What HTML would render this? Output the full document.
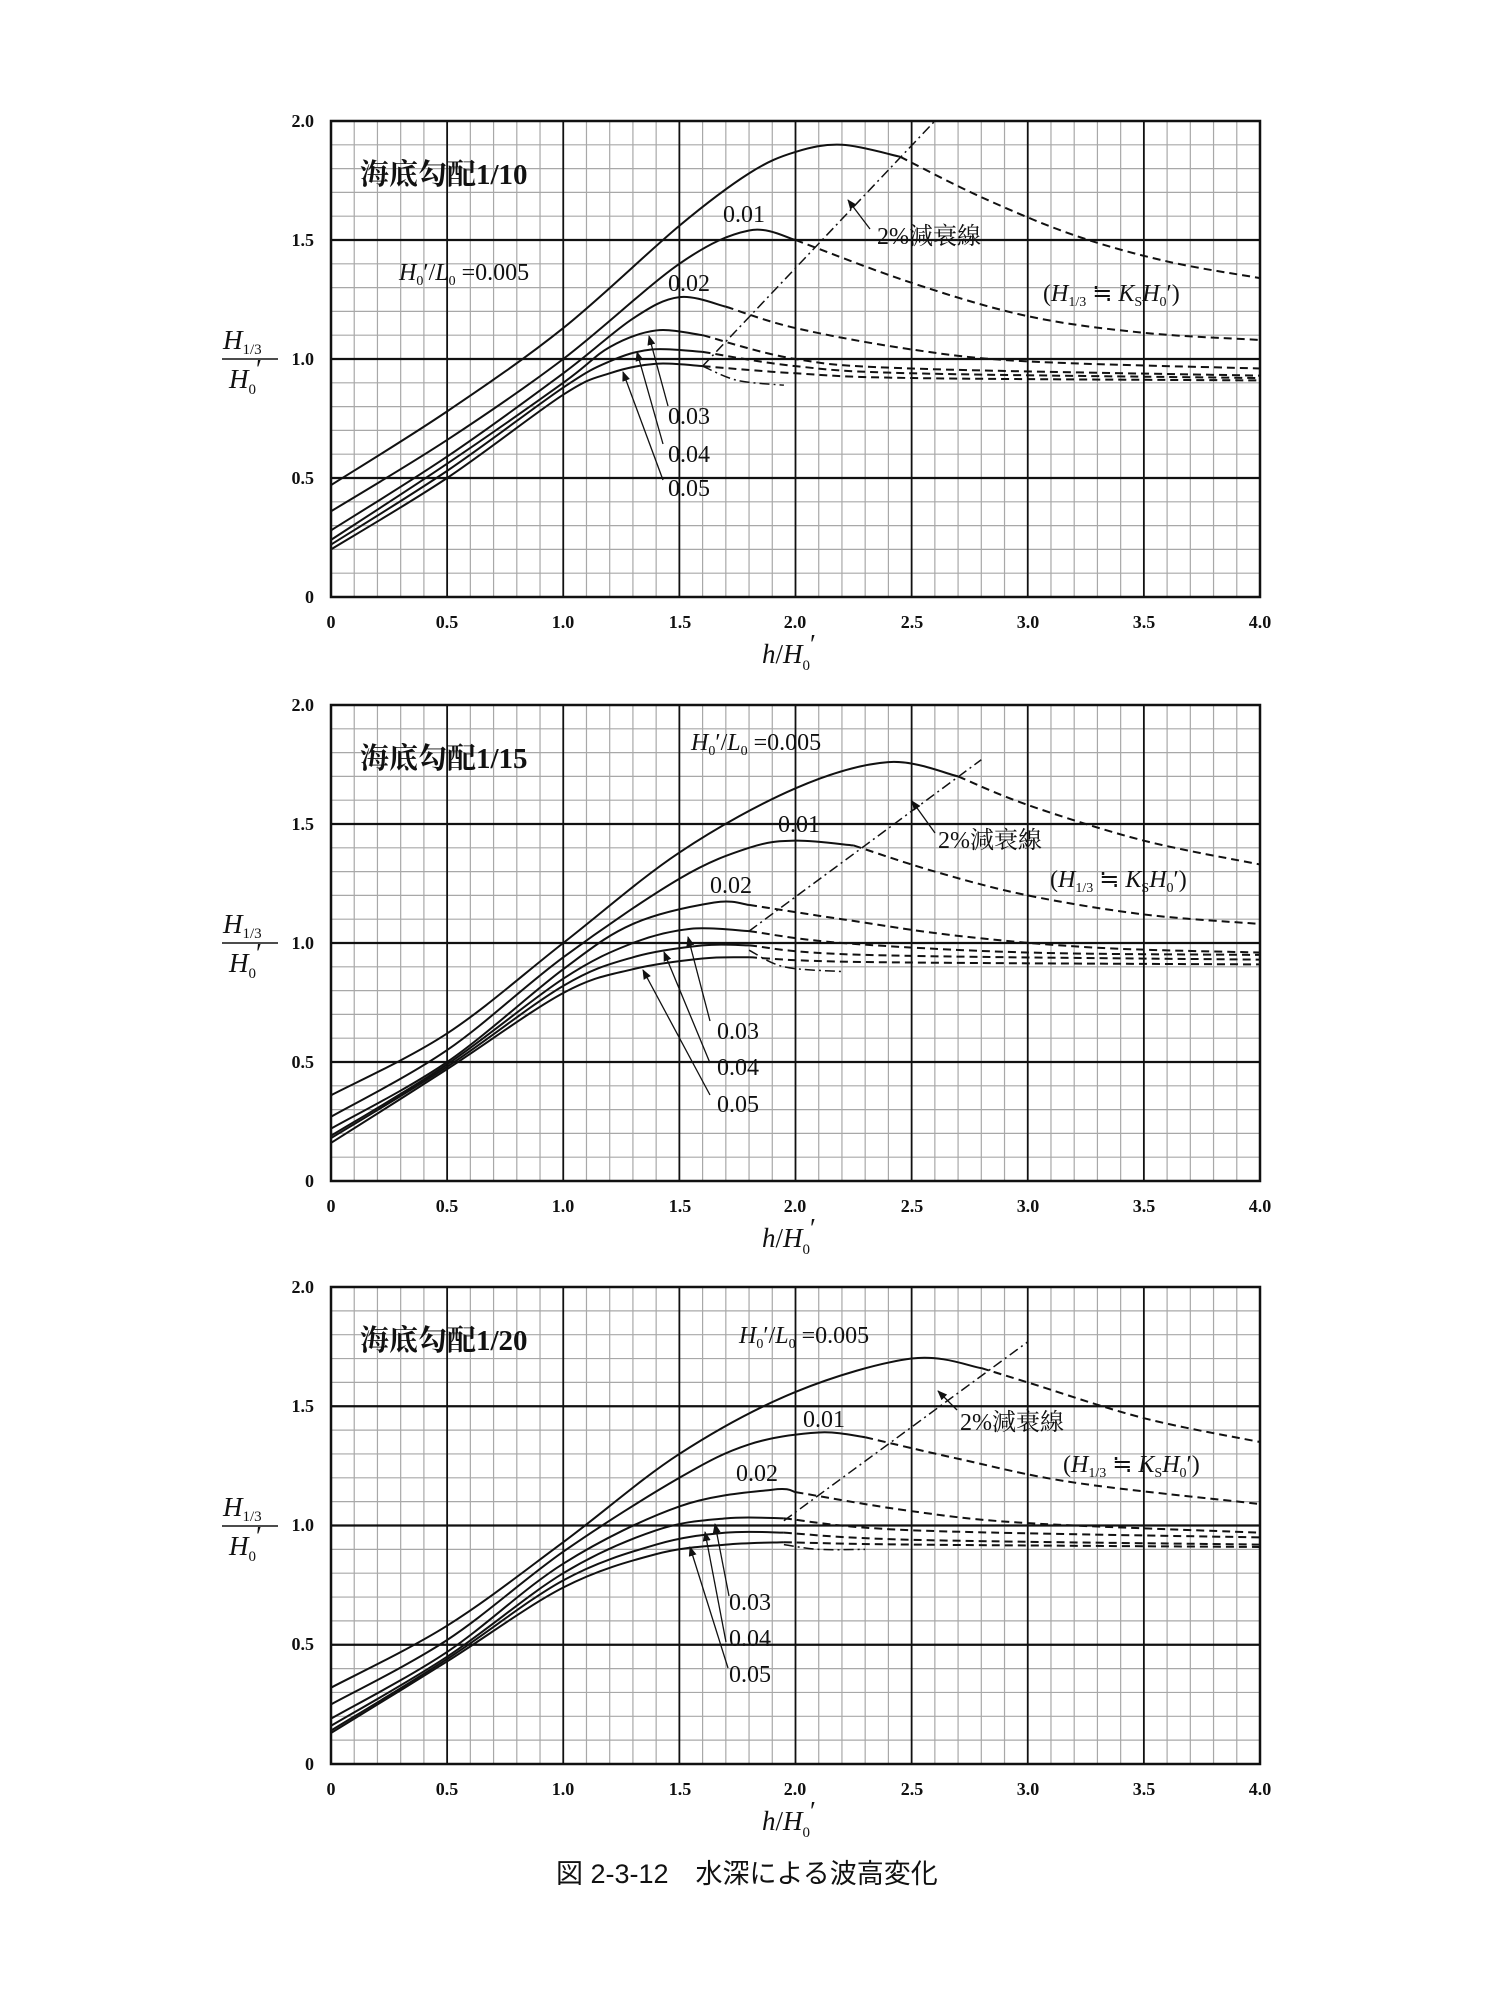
<!DOCTYPE html>
<html><head><meta charset="utf-8"><style>
html,body{margin:0;padding:0;background:#fff;}
svg{display:block;}
.t{font-family:"Liberation Serif","Noto Serif CJK SC",serif;font-weight:bold;fill:#111;}
.tk{font-family:"Liberation Serif",serif;font-weight:bold;font-size:18px;fill:#111;}
.lb{font-family:"Liberation Serif","Noto Serif CJK SC",serif;font-size:24px;fill:#111;}
.ax{font-family:"Liberation Serif",serif;font-size:27px;fill:#111;}
.it{font-style:italic;}
.cap{font-family:"Liberation Sans","Noto Sans CJK JP",sans-serif;font-size:27px;fill:#111;}
</style></head><body>
<svg id="s" width="1500" height="2000" viewBox="0 0 1500 2000" xmlns="http://www.w3.org/2000/svg">
<rect width="1500" height="2000" fill="#fff"/>
<g id="g"></g>
<defs><marker id="ah" markerWidth="10" markerHeight="8" refX="9" refY="4" orient="auto" markerUnits="userSpaceOnUse"><path d="M0,0 L10,4 L0,8 z" fill="#111"/></marker></defs>

<text class="t" x="360" y="184" font-size="29" font-family="Noto Serif CJK JP">海底勾配1/10</text>
<text class="lb" x="723" y="222">0.01</text>
<text class="lb" x="877" y="244" font-family="Noto Serif CJK JP">2%減衰線</text>
<text class="lb" x="399" y="280"><tspan class="it">H</tspan><tspan font-size="14" dy="5">0</tspan><tspan dy="-5">′/</tspan><tspan class="it">L</tspan><tspan font-size="14" dy="5">0</tspan><tspan dy="-5"> =0.005</tspan></text>
<text class="lb" x="668" y="291">0.02</text>
<text class="lb" x="1043" y="301">(<tspan class="it">H</tspan><tspan font-size="14" dy="5">1/3</tspan><tspan dy="-5"> ≒ </tspan><tspan class="it">K</tspan><tspan font-size="14" dy="5">S</tspan><tspan class="it" dy="-5">H</tspan><tspan font-size="14" dy="5">0</tspan><tspan dy="-5">′)</tspan></text>
<text class="lb" x="668" y="424">0.03</text>
<text class="lb" x="668" y="462">0.04</text>
<text class="lb" x="668" y="496">0.05</text>

<text class="t" x="360" y="768" font-size="29" font-family="Noto Serif CJK JP">海底勾配1/15</text>
<text class="lb" x="691" y="750"><tspan class="it">H</tspan><tspan font-size="14" dy="5">0</tspan><tspan dy="-5">′/</tspan><tspan class="it">L</tspan><tspan font-size="14" dy="5">0</tspan><tspan dy="-5"> =0.005</tspan></text>
<text class="lb" x="778" y="832">0.01</text>
<text class="lb" x="938" y="848" font-family="Noto Serif CJK JP">2%減衰線</text>
<text class="lb" x="1050" y="887">(<tspan class="it">H</tspan><tspan font-size="14" dy="5">1/3</tspan><tspan dy="-5"> ≒ </tspan><tspan class="it">K</tspan><tspan font-size="14" dy="5">S</tspan><tspan class="it" dy="-5">H</tspan><tspan font-size="14" dy="5">0</tspan><tspan dy="-5">′)</tspan></text>
<text class="lb" x="710" y="893">0.02</text>
<text class="lb" x="717" y="1039">0.03</text>
<text class="lb" x="717" y="1075">0.04</text>
<text class="lb" x="717" y="1112">0.05</text>

<text class="t" x="360" y="1350" font-size="29" font-family="Noto Serif CJK JP">海底勾配1/20</text>
<text class="lb" x="739" y="1343"><tspan class="it">H</tspan><tspan font-size="14" dy="5">0</tspan><tspan dy="-5">′/</tspan><tspan class="it">L</tspan><tspan font-size="14" dy="5">0</tspan><tspan dy="-5"> =0.005</tspan></text>
<text class="lb" x="803" y="1427">0.01</text>
<text class="lb" x="960" y="1430" font-family="Noto Serif CJK JP">2%減衰線</text>
<text class="lb" x="1063" y="1472">(<tspan class="it">H</tspan><tspan font-size="14" dy="5">1/3</tspan><tspan dy="-5"> ≒ </tspan><tspan class="it">K</tspan><tspan font-size="14" dy="5">S</tspan><tspan class="it" dy="-5">H</tspan><tspan font-size="14" dy="5">0</tspan><tspan dy="-5">′)</tspan></text>
<text class="lb" x="736" y="1481">0.02</text>
<text class="lb" x="729" y="1610">0.03</text>
<text class="lb" x="729" y="1646">0.04</text>
<text class="lb" x="729" y="1682">0.05</text>

<g class="tk" text-anchor="end">
<text x="314" y="127">2.0</text><text x="314" y="246">1.5</text><text x="314" y="365">1.0</text><text x="314" y="484">0.5</text><text x="314" y="603">0</text>
<text x="314" y="711">2.0</text><text x="314" y="830">1.5</text><text x="314" y="949">1.0</text><text x="314" y="1068">0.5</text><text x="314" y="1187">0</text>
<text x="314" y="1293">2.0</text><text x="314" y="1412">1.5</text><text x="314" y="1531">1.0</text><text x="314" y="1650">0.5</text><text x="314" y="1770">0</text>
</g>
<g class="tk" text-anchor="middle">
<text x="331" y="628">0</text><text x="447" y="628">0.5</text><text x="563" y="628">1.0</text><text x="680" y="628">1.5</text><text x="795" y="628">2.0</text><text x="912" y="628">2.5</text><text x="1028" y="628">3.0</text><text x="1144" y="628">3.5</text><text x="1260" y="628">4.0</text>
<text x="331" y="1212">0</text><text x="447" y="1212">0.5</text><text x="563" y="1212">1.0</text><text x="680" y="1212">1.5</text><text x="795" y="1212">2.0</text><text x="912" y="1212">2.5</text><text x="1028" y="1212">3.0</text><text x="1144" y="1212">3.5</text><text x="1260" y="1212">4.0</text>
<text x="331" y="1795">0</text><text x="447" y="1795">0.5</text><text x="563" y="1795">1.0</text><text x="680" y="1795">1.5</text><text x="795" y="1795">2.0</text><text x="912" y="1795">2.5</text><text x="1028" y="1795">3.0</text><text x="1144" y="1795">3.5</text><text x="1260" y="1795">4.0</text>
</g>
<g class="ax">
<text x="762" y="663"><tspan class="it">h</tspan>/<tspan class="it">H</tspan><tspan font-size="15" dy="7">0</tspan><tspan dy="-17">′</tspan></text>
<text x="762" y="1247"><tspan class="it">h</tspan>/<tspan class="it">H</tspan><tspan font-size="15" dy="7">0</tspan><tspan dy="-17">′</tspan></text>
<text x="762" y="1830"><tspan class="it">h</tspan>/<tspan class="it">H</tspan><tspan font-size="15" dy="7">0</tspan><tspan dy="-17">′</tspan></text>
<text x="223" y="349"><tspan class="it">H</tspan><tspan font-size="15" dy="5">1/3</tspan></text>
<text x="229" y="388"><tspan class="it">H</tspan><tspan font-size="15" dy="6">0</tspan><tspan dy="-16">′</tspan></text>
<text x="223" y="933"><tspan class="it">H</tspan><tspan font-size="15" dy="5">1/3</tspan></text>
<text x="229" y="972"><tspan class="it">H</tspan><tspan font-size="15" dy="6">0</tspan><tspan dy="-16">′</tspan></text>
<text x="223" y="1516"><tspan class="it">H</tspan><tspan font-size="15" dy="5">1/3</tspan></text>
<text x="229" y="1555"><tspan class="it">H</tspan><tspan font-size="15" dy="6">0</tspan><tspan dy="-16">′</tspan></text>
</g>
<line x1="222" y1="359" x2="278" y2="359" stroke="#111" stroke-width="1.5"/>
<line x1="222" y1="943" x2="278" y2="943" stroke="#111" stroke-width="1.5"/>
<line x1="222" y1="1526" x2="278" y2="1526" stroke="#111" stroke-width="1.5"/>

<text class="cap" x="556" y="1883">図 2-3-12　水深による波高変化</text>
</svg>
<script>
var NS="http://www.w3.org/2000/svg",g=document.getElementById("g");
function el(t,a){var e=document.createElementNS(NS,t);for(var k in a)e.setAttribute(k,a[k]);g.appendChild(e);return e;}
var P=[{T:121,B:597},{T:705,B:1181},{T:1287,B:1764}],L=331,R=1260;
function cr(pts,p){var s=pts.map(function(q){return [L+q[0]*(R-L)/4,p.B-q[1]*(p.B-p.T)/2];});
 var d="M"+s[0][0]+","+s[0][1];
 for(var i=0;i<s.length-1;i++){var p0=s[i-1]||s[i],p1=s[i],p2=s[i+1],p3=s[i+2]||s[i+1];
  d+=" C"+(p1[0]+(p2[0]-p0[0])/6)+","+(p1[1]+(p2[1]-p0[1])/6)+" "+(p2[0]-(p3[0]-p1[0])/6)+","+(p2[1]-(p3[1]-p1[1])/6)+" "+p2[0]+","+p2[1];}
 return d;}
var D=[
[[[[0,.47],[.5,.78],[1,1.13],[1.5,1.56],[1.8,1.78],[2,1.87],[2.2,1.9],[2.45,1.85]],[[2.45,1.85],[2.8,1.68],[3.2,1.52],[3.6,1.41],[4,1.34]]],
 [[[0,.36],[.5,.66],[1,1.0],[1.5,1.4],[1.8,1.54],[2,1.5]],[[2,1.5],[2.5,1.32],[3,1.18],[3.5,1.11],[4,1.08]]],
 [[[0,.28],[.5,.59],[1,.94],[1.3,1.17],[1.5,1.26],[1.7,1.22]],[[1.7,1.22],[2,1.13],[2.5,1.04],[3,.99],[4,.96]]],
 [[[0,.24],[.5,.56],[1,.9],[1.2,1.05],[1.4,1.12],[1.6,1.1]],[[1.6,1.1],[2,1.0],[2.5,.96],[4,.93]]],
 [[[0,.22],[.5,.53],[1,.88],[1.2,.99],[1.38,1.04],[1.6,1.03]],[[1.6,1.03],[2,.97],[2.5,.94],[4,.92]]],
 [[[0,.2],[.5,.5],[1,.85],[1.2,.94],[1.4,.98],[1.6,.97]],[[1.6,.97],[2,.94],[2.5,.92],[4,.91]]],
 [[1.6,.97],[2.6,2.0]],[[1.6,.97],[1.75,.91],[1.95,.89]]],
[[[[0,.36],[.5,.62],[1,1.0],[1.5,1.38],[2,1.65],[2.4,1.76],[2.7,1.7]],[[2.7,1.7],[3,1.58],[3.5,1.43],[4,1.33]]],
 [[[0,.27],[.5,.55],[1,.94],[1.5,1.27],[1.8,1.4],[2,1.43],[2.25,1.41]],[[2.25,1.41],[2.6,1.3],[3,1.2],[3.5,1.12],[4,1.08]]],
 [[[0,.22],[.5,.5],[1,.89],[1.3,1.08],[1.65,1.17],[1.8,1.16]],[[1.8,1.16],[2.2,1.1],[2.7,1.03],[3.3,.98],[4,.96]]],
 [[[0,.19],[.5,.49],[1,.85],[1.3,1.0],[1.55,1.06],[1.8,1.05]],[[1.8,1.05],[2.2,1.0],[3,.96],[4,.95]]],
 [[[0,.18],[.5,.48],[1,.82],[1.3,.94],[1.6,.99],[1.8,.99]],[[1.8,.99],[2.3,.95],[4,.93]]],
 [[[0,.16],[.5,.47],[1,.79],[1.3,.89],[1.6,.935],[1.8,.94]],[[1.8,.94],[2.3,.92],[4,.91]]],
 [[1.8,1.05],[2.8,1.77]],[[1.8,.97],[1.95,.9],[2.2,.88]]],
[[[[0,.32],[.5,.58],[1,.93],[1.5,1.3],[2,1.56],[2.5,1.7],[2.8,1.66]],[[2.8,1.66],[3,1.6],[3.5,1.45],[4,1.35]]],
 [[[0,.25],[.5,.52],[1,.89],[1.5,1.2],[1.8,1.34],[2.1,1.39],[2.3,1.37]],[[2.3,1.37],[2.7,1.28],[3.2,1.18],[4,1.09]]],
 [[[0,.19],[.5,.47],[1,.84],[1.5,1.08],[1.9,1.15],[2,1.14]],[[2,1.14],[2.5,1.06],[3,1.01],[4,.97]]],
 [[[0,.16],[.5,.45],[1,.8],[1.4,.98],[1.7,1.03],[1.95,1.03]],[[1.95,1.03],[2.5,.98],[4,.95]]],
 [[[0,.14],[.5,.44],[1,.77],[1.4,.92],[1.7,.97],[1.95,.97]],[[1.95,.97],[2.5,.94],[4,.92]]],
 [[[0,.13],[.5,.43],[1,.74],[1.4,.88],[1.7,.92],[1.95,.93]],[[1.95,.93],[2.5,.92],[4,.91]]],
 [[1.95,1.02],[3.0,1.77]],[[1.95,.92],[2.1,.9],[2.3,.9]]]];
var AR=[[[668,406,649,336],[663,444,637,352],[663,480,623,372],[870,229,848,200]],
[[710,1021,688,937],[710,1063,664,952],[710,1095,643,970],[935,833,912,801]],
[[729,1596,715,1524],[726,1642,705,1532],[728,1668,690,1547],[957,1410,938,1391]]];
P.forEach(function(p,pi){
 var H=p.B-p.T;
 for(var i=1;i<40;i++){if(i%5)el("line",{x1:L+i*(R-L)/40,x2:L+i*(R-L)/40,y1:p.T,y2:p.B,stroke:"#a8a8a8","stroke-width":1.2});}
 for(var j=1;j<20;j++){if(j%5)el("line",{x1:L,x2:R,y1:p.T+j*H/20,y2:p.T+j*H/20,stroke:"#a8a8a8","stroke-width":1.2});}
 for(var i=1;i<8;i++)el("line",{x1:L+i*(R-L)/8,x2:L+i*(R-L)/8,y1:p.T,y2:p.B,stroke:"#111","stroke-width":1.8});
 for(var j=1;j<4;j++)el("line",{x1:L,x2:R,y1:p.T+j*H/4,y2:p.T+j*H/4,stroke:"#111","stroke-width":2.2});
 el("rect",{x:L,y:p.T,width:R-L,height:H,fill:"none",stroke:"#111","stroke-width":2.5});
 var d=D[pi];
 for(var c=0;c<6;c++){el("path",{d:cr(d[c][0],p),fill:"none",stroke:"#111","stroke-width":2});
  el("path",{d:cr(d[c][1],p),fill:"none",stroke:"#111","stroke-width":2,"stroke-dasharray":"8,5"});}
 el("path",{d:cr(d[6],p),fill:"none",stroke:"#111","stroke-width":1.5,"stroke-dasharray":"10,4,2,4"});
 el("path",{d:cr(d[7],p),fill:"none",stroke:"#111","stroke-width":1.5,"stroke-dasharray":"10,4,2,4"});
 AR[pi].forEach(function(a){el("line",{x1:a[0],y1:a[1],x2:a[2],y2:a[3],stroke:"#111","stroke-width":1.3,"marker-end":"url(#ah)"});});
});
</script>
</body></html>
